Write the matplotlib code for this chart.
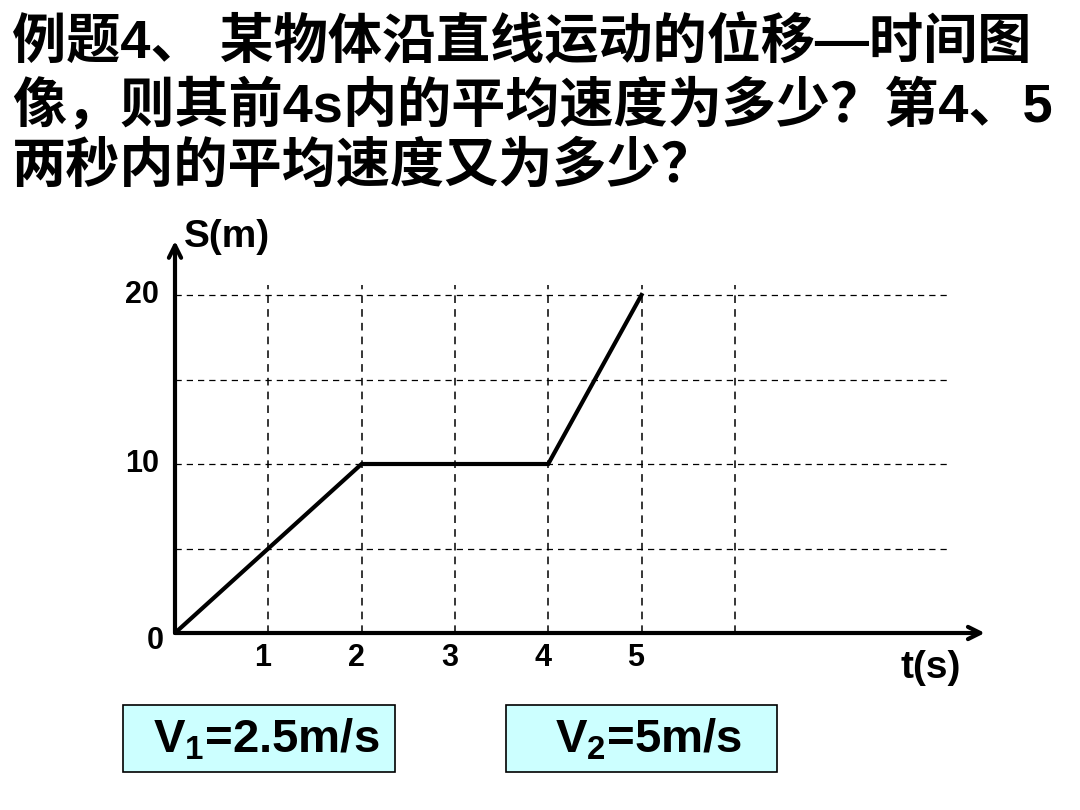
import matplotlib
matplotlib.use("Agg")
import matplotlib.pyplot as plt
from matplotlib.patches import Rectangle

plt.rcParams["font.family"] = ["Liberation Sans", "Noto Sans CJK SC", "DejaVu Sans"]
plt.rcParams["mathtext.fontset"] = "custom"
plt.rcParams["mathtext.rm"] = "Liberation Sans:bold"
plt.rcParams["mathtext.it"] = "Liberation Sans:bold"

# ── Data ────────────────────────────────────────────────────────────────
t_values = [0, 2, 4, 5]
s_values = [0, 10, 10, 20]
x_ticks = [1, 2, 3, 4, 5]
y_ticks = [10, 20]
grid_x = [1, 2, 3, 4, 5, 6]
grid_y = [5, 10, 15, 20]

title_lines = [
    "例题4、 某物体沿直线运动的位移—时间图",
    "像，则其前4s内的平均速度为多少？第4、5",
    "两秒内的平均速度又为多少？",
]
answers = [r"V$_1$=2.5m/s", r"V$_2$=5m/s"]

W, H = 1080, 810
fig = plt.figure(figsize=(W / 100, H / 100), dpi=100)
fig.patch.set_facecolor("white")

def fx(px):
    return px / W

def fy(py):
    return 1 - py / H

# axes: origin at pixel (175, 633); 93.3 px per s, 16.9 px per m
xmax, ymax = 9.0, 24.0
ax = fig.add_axes([fx(175), fy(633), xmax * 93.3 / W, ymax * 16.9 / H])
ax.set_xlim(0, xmax)
ax.set_ylim(0, ymax)
ax.axis("off")

# dashed grid
for gx in grid_x:
    ax.plot([gx, gx], [0, 20.6], color="black", lw=1.1, ls=(0, (5, 4)), zorder=1)
for gy in grid_y:
    ax.plot([0, 8.28], [gy, gy], color="black", lw=0.9, ls=(0, (5, 4)), zorder=1)

# axis arrows
ax.annotate("", xy=(8.68, 0), xytext=(0, 0),
            arrowprops=dict(arrowstyle="->", lw=3, color="black",
                            shrinkA=0, shrinkB=0, mutation_scale=22),
            annotation_clip=False, zorder=3)
ax.annotate("", xy=(0, 23.2), xytext=(0, 0),
            arrowprops=dict(arrowstyle="->", lw=3, color="black",
                            shrinkA=0, shrinkB=0, mutation_scale=22),
            annotation_clip=False, zorder=3)

# position-time curve
ax.plot(t_values, s_values, color="black", lw=3, solid_joinstyle="miter", zorder=4)

# tick labels
for xt in x_ticks:
    ax.text(xt - 0.06, -0.6, str(xt), ha="center", va="top",
            fontsize=22, fontweight="bold")
for yt in y_ticks:
    ax.text(-0.17, yt, str(yt), ha="right", va="center",
            fontsize=22, fontweight="bold")
ax.text(-0.12, -0.5, "0", ha="right", va="center", fontsize=22, fontweight="bold")

fig.text(fx(184), fy(237), "S(m)", ha="left", va="center", fontsize=28, fontweight="bold")
fig.text(fx(931), fy(668), "t(s)", ha="center", va="center", fontsize=28, fontweight="bold")

# title
for i, line in enumerate(title_lines):
    fig.text(fx(12), fy(43 + 62 * i), line, ha="left", va="center",
             fontsize=39, fontweight="bold", color="black")

# answer boxes
boxes = [(123, 395), (506, 777)]
for (x0, x1), label in zip(boxes, answers):
    rect = Rectangle((fx(x0), fy(772)), fx(x1 - x0), (772 - 705) / H,
                     transform=fig.transFigure, facecolor="#ccffff",
                     edgecolor="black", lw=1.2)
    fig.patches.append(rect)
    fig.text(fx((x0 + x1) / 2 + 7), fy(740), label, ha="center", va="center",
             fontsize=34, fontweight="bold")

fig.savefig("out.png", dpi=100)
